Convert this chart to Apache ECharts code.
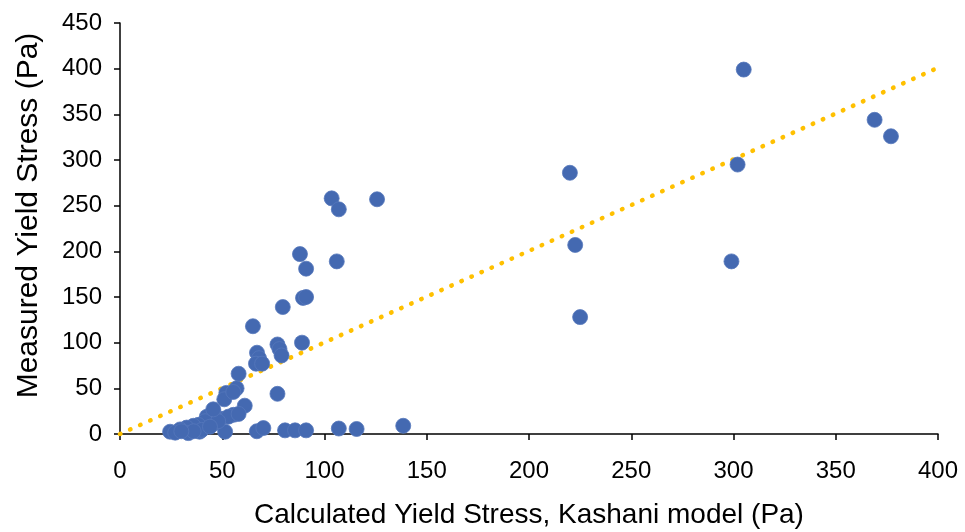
<!DOCTYPE html>
<html>
<head>
<meta charset="utf-8">
<script src="https://cdn.jsdelivr.net/npm/echarts@6/dist/echarts.min.js"></script>
<style>
  html, body { margin: 0; padding: 0; background: #ffffff; }
  #chart { width: 965px; height: 532px; }
</style>
</head>
<body>
<div id="chart"></div>
<script>
// Calculated (Kashani model) vs measured yield stress, both in Pa
const calcStress = [
  305, 369, 377, 220, 302, 222.6, 299, 225,
  103.5, 107, 125.7, 88, 91, 106, 89.5, 91, 79.6, 65,
  89, 77, 78, 79, 67, 68, 66.5, 69.5, 58, 77, 57, 52, 51, 61,
  55.5, 49, 45.6, 42.5, 46.5, 41.6, 38.3, 35.9, 32.6, 29.4,
  24.5, 27, 33.4, 38.9, 40, 51.4, 66.9, 70.1, 80.7, 85.6, 91,
  107, 115.7, 138.5, 53, 58, 48, 44, 36, 30, 55.4, 45.6
];
const measStress = [
  399, 344, 326, 286, 295, 207, 189, 128,
  258, 246, 257, 197, 181, 189, 149, 150, 139, 118,
  100, 98, 93, 86, 89, 83, 77, 77, 66, 44, 50, 45, 38, 31,
  21, 17, 24, 19, 12, 14, 10, 9, 7, 5,
  2.5, 1.5, 1, 2.5, 4.5, 2.5, 3, 6.5, 4, 4, 4,
  6, 5.5, 9, 19, 22, 14, 8, 3, 3, 46, 27
];

// Dotted trend line through the origin
const trendX = [0, 400];
const trendY = [0, 401];

const xTicks = { min: 0, max: 400, interval: 50 };
const yTicks = { min: 0, max: 450, interval: 50 };

const chart = echarts.init(document.getElementById('chart'), null, { renderer: 'canvas' });

const fontFamily = '"Liberation Sans", Arial, sans-serif';
const axisBase = {
  type: 'value',
  splitLine: { show: false },
  axisLine: { show: true, onZero: false, lineStyle: { color: '#000000', width: 1.5 } },
  axisTick: { show: true, inside: false, length: 6, lineStyle: { color: '#000000', width: 1.5 } },
  axisLabel: { color: '#000000', fontSize: 24, fontFamily: fontFamily }
};

chart.setOption({
  animation: false,
  backgroundColor: '#ffffff',
  grid: { left: 120, right: 27, top: 23, bottom: 98, containLabel: false, outerBoundsMode: 'none' },
  xAxis: Object.assign({}, axisBase, {
    min: xTicks.min, max: xTicks.max, interval: xTicks.interval,
    name: 'Calculated Yield Stress, Kashani model (Pa)',
    nameLocation: 'middle', nameGap: 67,
    nameTextStyle: { color: '#000000', fontSize: 28, fontFamily: fontFamily },
    axisLabel: Object.assign({}, axisBase.axisLabel, { margin: 25 })
  }),
  yAxis: Object.assign({}, axisBase, {
    min: yTicks.min, max: yTicks.max, interval: yTicks.interval,
    name: 'Measured Yield Stress (Pa)',
    nameLocation: 'middle', nameGap: 76,
    nameTextStyle: { color: '#000000', fontSize: 30, fontFamily: fontFamily, padding: [0, 0, 0, 26] },
    axisLabel: Object.assign({}, axisBase.axisLabel, { margin: 18 })
  }),
  series: [
    {
      type: 'line',
      data: trendX.map((x, i) => [x, trendY[i]]),
      symbol: 'none',
      silent: true,
      z: 1,
      lineStyle: { color: '#FFC000', width: 4.5, type: [0.5, 10.5], cap: 'round' }
    },
    {
      type: 'scatter',
      data: calcStress.map((x, i) => [x, measStress[i]]),
      symbol: 'circle',
      symbolSize: 15,
      z: 2,
      itemStyle: { color: '#4469B1', borderColor: '#5577BB', borderWidth: 0.8, opacity: 1 }
    }
  ]
});
</script>
</body>
</html>
